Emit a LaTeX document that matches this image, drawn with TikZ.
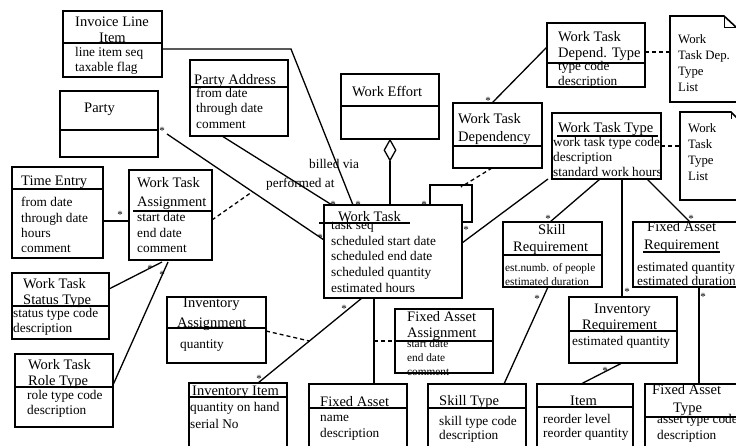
\documentclass[tikz,border=0pt]{standalone}
\usepackage{fontspec}
\setmainfont{Liberation Serif}
\usetikzlibrary{calc,shapes.geometric}

\tikzset{
  box/.style={draw, line width=1.6pt, anchor=north west, inner sep=0pt, outer sep=0pt},
  ttl/.style={font=\fontsize{14.5}{17}\selectfont, inner sep=0pt, anchor=base west},
  att/.style={font=\fontsize{13.3}{15}\selectfont, inner sep=0pt, anchor=base west},
  sml/.style={font=\fontsize{11.3}{13}\selectfont, inner sep=0pt, anchor=base west},
  notetxt/.style={font=\fontsize{12.8}{15}\selectfont, inner sep=0pt, anchor=base west},
  star/.style={font=\fontsize{11}{12}\selectfont, inner sep=0pt},
  rel/.style={line width=1.3pt},
  dep/.style={line width=1.3pt, dash pattern=on 4pt off 3pt},
  sep/.style={line width=1.6pt},
  notebox/.style={line width=1.6pt},
}

% one text node per line: prefix, x, first baseline, line step, style, lines
\newcommand\txtlines[6]{%
  \foreach \lbl [count=\k] in {#6}{%
    \node[#5] (#1-\k) at (#2,{#3+(\k-1)*#4}) {\lbl};}}
% horizontal compartment separator inside a class box
\newcommand\hdiv[2]{\draw[sep] ($(#1.north west)+(0,#2)$) -- ($(#1.north east)+(0,#2)$);}

\begin{document}
\begin{tikzpicture}[x=1pt,y=-1pt]
\fill[white] (0,0) rectangle (736,446);
\useasboundingbox (0,0) rectangle (736,446);

% ---------------- class boxes ----------------
\node[box, minimum width=99pt, minimum height=66pt] (ili) at (63,11) {};
\node[box, minimum width=98pt, minimum height=66pt] (party) at (60,91) {};
\node[box, minimum width=98pt, minimum height=76pt] (pa) at (190,60) {};
\node[box, minimum width=98pt, minimum height=65pt] (we) at (341,74) {};
\node[box, minimum width=98pt, minimum height=64pt] (wtdt) at (547,23) {};
\node[box, minimum width=89pt, minimum height=65pt] (wtd) at (453,103) {};
\node[box, minimum width=109pt, minimum height=66pt] (wtt) at (552,113) {};
\node[box, minimum width=138pt, minimum height=93pt] (wt) at (324,205) {};
\node[box, minimum width=91pt, minimum height=91pt] (te) at (12,167) {};
\node[box, minimum width=83pt, minimum height=90pt] (wta) at (129,170) {};
\node[box, minimum width=97pt, minimum height=66pt] (wtst) at (12,273) {};
\node[box, minimum width=98pt, minimum height=73pt] (wtrt) at (15,354) {};
\node[box, minimum width=99pt, minimum height=66pt] (ia) at (167,297) {};
\node[box, minimum width=98pt, minimum height=75pt] (ii) at (189,383) {};
\node[box, minimum width=98pt, minimum height=75pt] (fa) at (309,384) {};
\node[box, minimum width=98pt, minimum height=64pt] (faa) at (395,309) {};
\node[box, minimum width=98pt, minimum height=75pt] (st) at (428,384) {};
\node[box, minimum width=99pt, minimum height=65pt] (sr) at (503,222) {};
\node[box, minimum width=115pt, minimum height=65pt] (far) at (633,222) {};
\node[box, minimum width=108pt, minimum height=66pt] (ir) at (569,297) {};
\node[box, minimum width=96pt, minimum height=75pt] (item) at (537,384) {};
\node[box, minimum width=105pt, minimum height=75pt] (fat) at (645,384) {};

% compartment separators
\hdiv{ili}{32}
\hdiv{party}{39}
\hdiv{pa}{27}
\hdiv{we}{32}
\hdiv{wtdt}{40}
\hdiv{wtd}{43}
\hdiv{te}{22}
\hdiv{wtst}{33}
\hdiv{wtrt}{33}
\hdiv{ia}{31}
\hdiv{ii}{14}
\hdiv{fa}{24}
\hdiv{faa}{32}
\hdiv{st}{24}
\hdiv{sr}{33}
\hdiv{ir}{34}
\hdiv{item}{23}
\hdiv{fat}{33}
\draw[sep] ($(wta.north west)+(4,41)$) -- ($(wta.north east)+(0,41)$);
\draw[sep] ($(wt.north west)+(-5,18)$) -- ($(wt.north west)+(86,18)$);
\draw[line width=1.2pt] ($(wtt.north west)+(5,23)$) -- ($(wtt.north west)+(106,23)$);
\draw[line width=1.2pt] ($(far.north west)+(10,30)$) -- ($(far.north west)+(87,30)$);

% ---------------- notes ----------------
\draw[notebox] (670,16) coordinate (n1a) -- (724,16) -- (737,28) -- (737,102) -- (670,102) -- cycle;
\draw[line width=1pt] (724,16) -- (724,28) -- (737,28);
\node[inner sep=0pt, minimum width=67pt, minimum height=86pt, anchor=north west] (note1) at (670,16) {};
\draw[notebox] (680,112) -- (731,112) -- (745,126) -- (745,200) -- (680,200) -- cycle;
\draw[line width=1pt] (731,112) -- (731,119);
\node[inner sep=0pt, minimum width=65pt, minimum height=88pt, anchor=north west] (note2) at (680,112) {};

% ---------------- texts ----------------
\txtlines{ilit}{75}{27}{16}{ttl}{Invoice Line}
\node[ttl] (ilit-2) at (99,43) {Item};
\txtlines{ilia}{75}{57}{15}{att}{line item seq,taxable flag}

\node[ttl] (partyt) at (84,113) {Party};

\node[ttl] (pat) at (194,85) {Party Address};
\txtlines{paa}{196}{97.5}{15.5}{att}{from date,through date,comment}

\node[ttl] (wet) at (352,97) {Work Effort};

\txtlines{wtdtt}{558}{42}{15.5}{ttl}{Work Task,Depend. Type}
\txtlines{wtdta}{558}{71}{15}{att}{type code,description}

\txtlines{n1t}{678}{44}{15.7}{notetxt}{Work,Task Dep.,Type,List}

\txtlines{wtdt-t}{458}{124}{18}{ttl}{Work Task,Dependency}

\node[ttl] (wttt) at (558,133) {Work Task Type};
\txtlines{wtta}{553}{147}{15}{att}{work task type code,description,standard work hours}

\txtlines{n2t}{688}{133}{15.7}{notetxt}{Work,Task,Type,List}

\node[ttl] (wtt-title) at (338,222) {Work Task};
\txtlines{wta-attr}{331}{229.5}{15.75}{att}{task seq,scheduled start date,scheduled end date,scheduled quantity,estimated hours}

\node[ttl] (tet) at (21,186) {Time Entry};
\txtlines{tea}{21}{207}{15.3}{att}{from date,through date,hours,comment}

\txtlines{wtat}{137}{188}{19}{ttl}{Work Task,Assignment}
\txtlines{wtaa}{137}{222}{15.3}{att}{start date,end date,comment}

\txtlines{wtstt}{23}{288}{17}{ttl}{Work Task,Status Type}
\txtlines{wtsta}{13}{317}{15}{att}{status type code,description}

\txtlines{wtrtt}{28}{369}{16}{ttl}{Work Task,Role Type}
\txtlines{wtrta}{27}{399}{15}{att}{role type code,description}

\node[ttl] (iat-1) at (183,308) {Inventory};
\node[ttl] (iat-2) at (177,327) {Assignment};
\node[att] (iaa) at (180,348) {quantity};

\node[ttl] (iit) at (192,395) {Inventory Item};
\txtlines{iia}{190}{411}{17}{att}{quantity on hand,serial No}

\node[ttl] (fat-title) at (320,406) {Fixed Asset};
\txtlines{faa-attr}{320}{421}{16}{att}{name,description}

\txtlines{faat}{407}{321}{16}{ttl}{Fixed Asset,Assignment}
\txtlines{faaa}{407}{347}{14}{sml}{start date,end date,comment}

\node[ttl] (stt) at (439,405) {Skill Type};
\txtlines{sta}{439}{425}{14.5}{att}{skill type code,description}

\node[ttl] (srt-1) at (538,235) {Skill};
\node[ttl] (srt-2) at (513,252) {Requirement};
\txtlines{sra}{505}{272}{13.5}{sml}{est.numb. of people,estimated duration}

\node[ttl] (fart-1) at (647,232) {Fixed Asset};
\node[ttl] (fart-2) at (644,250) {Requirement};
\txtlines{fara}{637}{272}{14}{att}{estimated quantity,estimated duration}

\node[ttl] (irt-1) at (594,313) {Inventory};
\node[ttl] (irt-2) at (582,329) {Requirement};
\node[att] (ira) at (572,345) {estimated quantity};

\node[ttl] (itemt) at (570,405) {Item};
\txtlines{itema}{543}{423}{14.5}{att}{reorder level,reorder quantity}

\txtlines{fatt}{652}{394}{18}{ttl}{Fixed Asset}
\node[ttl] (fatt-2) at (673,412) {Type};
\txtlines{fata}{657}{423}{16}{att}{asset type code,description}

% ---------------- connectors ----------------
% invoice line item -- work task (billed via)
\draw[rel] ($(ili.north east)+(0,38)$) -- ++(129,0) -- ($(wt.north west)+(29,0)$);
\node[att] (lblbill) at (309,169) {billed via};
% party address -- work task (performed at)
\draw[rel] ($(pa.south west)+(32,0)$) -- ($(wt.north west)+(8,0)$);
\node[att] (lblperf) at (266,188) {performed at};
% party -- work task, with the assignment class attached
\coordinate (pw1) at ($(party.north east)+(9,43)$);
\coordinate (pw2) at ($(wt.north west)+(0,35)$);
\draw[rel] (pw1) -- (pw2);
\draw[dep] ($(wta.north east)+(0,50)$) -- ($(pw1)!0.544!(pw2)$);
% time entry -- work task assignment
\draw[rel] ($(te.north east)+(0,54)$) -- ($(wta.north west)+(0,51)$);
% status / role types -- work task assignment
\draw[rel] ($(wtst.north east)+(0,16)$) -- ($(wta.south west)+(33,2)$);
\draw[rel] ($(wtrt.north east)+(0,31)$) -- ($(wta.south west)+(39,2)$);
% work effort aggregation
\node[draw, diamond, line width=1.3pt, fill=white, minimum width=12pt, minimum height=21pt, inner sep=0pt, anchor=north] (agg) at ($(we.south west)+(49,0)$) {};
\draw[rel] (agg.south) -- ($(wt.north west)+(66,0)$);
% dependency type -- dependency
\draw[rel] ($(wtdt.north west)+(0,24)$) -- ($(wtd.north west)+(39,0)$);
% self association of work task, with dependency class
\draw[rel] ($(wt.north west)+(106,0)$) -- ++(0,-20) -- ++(42,0) -- ++(0,37) -- ($(wt.north east)+(0,17)$);
\draw[dep] ($(wtd.south west)+(39,0)$) -- ($(wt.north west)+(137,-18)$);
% notes
\draw[dep] ($(wtdt.north east)+(0,29)$) -- ($(note1.north west)+(0,36)$);
\draw[dep] ($(wtt.north east)+(0,33)$) -- ($(note2.north west)+(0,34)$);
% work task type -- work task and requirements
\draw[rel] ($(wtt.south west)+(-4,0)$) -- ($(wt.north east)+(0,38)$);
\draw[rel] ($(wtt.south west)+(48,0)$) -- ($(sr.north west)+(47,0)$);
\draw[rel] ($(wtt.south west)+(70,0)$) -- ($(ir.north west)+(53,0)$);
\draw[rel] ($(wtt.south west)+(95,0)$) -- ($(far.north west)+(57,0)$);
% requirements -- resource types
\draw[rel] ($(sr.south west)+(45,0)$) -- ($(st.north west)+(76,0)$);
\draw[rel] ($(far.south west)+(66,0)$) -- ($(fat.north west)+(54,0)$);
\draw[rel] ($(ir.south west)+(53,0)$) -- ($(item.north west)+(44,0)$);
% work task -- fixed asset, with assignment class
\coordinate (wf1) at ($(wt.south west)+(50,0)$);
\draw[rel] (wf1) -- ($(fa.north west)+(65,0)$);
\draw[dep] ($(wf1)+(0,43)$) -- (faa.west);
% work task -- inventory item, with assignment class
\coordinate (wi1) at ($(wt.south west)+(38,0)$);
\coordinate (wi2) at ($(ii.north west)+(69,0)$);
\draw[rel] (wi1) -- (wi2);
\draw[dep] ($(ia.north east)+(0,34)$) -- ($(wi1)!0.506!(wi2)$);

% ---------------- multiplicities ----------------
\node[star] (m1) at (162,131) {*};
\node[star] (m2) at (120,215) {*};
\node[star] (m3) at (150,269) {*};
\node[star] (m4) at (162,275) {*};
\node[star] (m5) at (333,205) {*};
\node[star] (m6) at (358,205) {*};
\node[star] (m7) at (424,205) {*};
\node[star] (m8) at (466,230) {*};
\node[star] (m9) at (320,238) {*};
\node[star] (m10) at (344,309) {*};
\node[star] (m11) at (259,379) {*};
\node[star] (m12) at (548,219) {*};
\node[star] (m13) at (537,299) {*};
\node[star] (m14) at (691,219) {*};
\node[star] (m15) at (703,297) {*};
\node[star] (m16) at (627,292) {*};
\node[star] (m17) at (605,371) {*};
\node[star] (m18) at (488,101) {*};
\end{tikzpicture}
\end{document}
